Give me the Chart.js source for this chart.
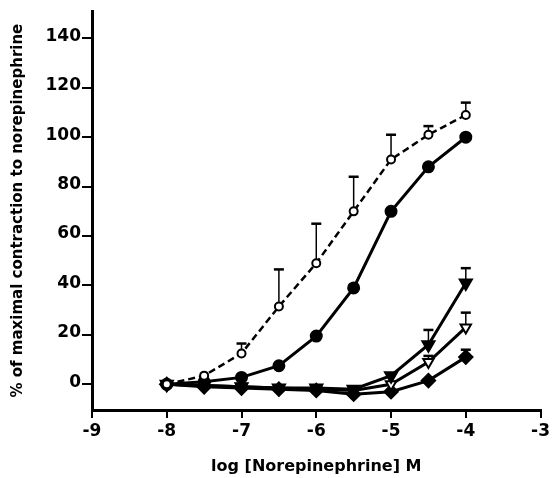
<!DOCTYPE html>
<html>
<head>
<meta charset="utf-8">
<script src="https://cdn.jsdelivr.net/npm/chart.js@4"></script>
<style>
  html, body { margin: 0; padding: 0; background: #fff; }
  #wrap { width: 553px; height: 478px; }
</style>
</head>
<body>
<div id="wrap"><canvas id="doseChart" width="553" height="478"></canvas></div>
<script>
var ctx = document.getElementById("doseChart");

/* data */
var logConc = [-8, -7.5, -7, -6.5, -6, -5.5, -5, -4.5, -4];

var openCircle = [0, 3.5, 12.5, 31.5, 49, 70, 91, 101, 109];
var openCircleErr = [0, 0, 4, 15, 16, 14, 10, 3.5, 5];

var filledCircle = [0, 1, 2.8, 7.5, 19.5, 39, 70, 88, 100];
var filledCircleErr = [0, 0, 0, 0, 0, 1, 1, 1, 0];

var filledTriangle = [0, -0.5, -1, -1.5, -1.5, -2, 3.5, 16, 41];
var filledTriangleErr = [0, 0, 0, 0, 0, 0, 0, 6, 6];

var openTriangle = [0, -0.5, -1, -1.5, -2, -2.5, 0, 9, 23];
var openTriangleErr = [0, 0, 0, 0, 0, 0, 0, 2.5, 6];

var filledDiamond = [0, -1, -1.5, -2, -2.5, -4, -3, 1.5, 11];
var filledDiamondErr = [0, 0, 0, 0, 0, 0, 0, 0, 3];

var yTicks = [0, 20, 40, 60, 80, 100, 120, 140];

function pts(vals) {
  return logConc.map(function (x, i) { return { x: x, y: vals[i] }; });
}

// upward SEM bars drawn under the markers
var errorBars = {
  id: 'errorBars',
  beforeDatasetsDraw: function (chart) {
    var c = chart.ctx;
    var xs = chart.scales.x, ys = chart.scales.y;
    c.save();
    c.strokeStyle = '#000';
    chart.data.datasets.forEach(function (ds) {
      if (!ds.err) return;
      ds.data.forEach(function (p, i) {
        var e = ds.err[i];
        if (!e) return;
        var px = xs.getPixelForValue(p.x);
        var y0 = ys.getPixelForValue(p.y);
        var y1 = ys.getPixelForValue(p.y + e);
        c.lineWidth = 1.5;
        c.beginPath();
        c.moveTo(px, y0);
        c.lineTo(px, y1);
        c.stroke();
        c.lineWidth = 2.5;
        c.beginPath();
        c.moveTo(px - 5, y1);
        c.lineTo(px + 5, y1);
        c.stroke();
      });
    });
    c.restore();
  }
};

var fam = 'DejaVu Sans, Liberation Sans, sans-serif';

var doseChart = new Chart(ctx, {
  type: 'scatter',
  data: {
    datasets: [{
      label: 'open circle',
      data: pts(openCircle),
      err: openCircleErr,
      showLine: true,
      borderColor: '#000',
      borderWidth: 2.5,
      borderDash: [7, 4],
      pointStyle: 'circle',
      pointRadius: 4,
      pointBorderWidth: 2,
      pointBackgroundColor: '#fff',
      pointBorderColor: '#000'
    }, {
      label: 'filled circle',
      data: pts(filledCircle),
      err: filledCircleErr,
      showLine: true,
      borderColor: '#000',
      borderWidth: 3,
      pointStyle: 'circle',
      pointRadius: 5,
      pointBackgroundColor: '#000',
      pointBorderColor: '#000'
    }, {
      label: 'filled triangle',
      data: pts(filledTriangle),
      err: filledTriangleErr,
      showLine: true,
      borderColor: '#000',
      borderWidth: 3,
      pointStyle: 'triangle',
      rotation: 180,
      pointRadius: 6,
      pointBackgroundColor: '#000',
      pointBorderColor: '#000'
    }, {
      label: 'open triangle',
      data: pts(openTriangle),
      err: openTriangleErr,
      showLine: true,
      borderColor: '#000',
      borderWidth: 3,
      pointStyle: 'triangle',
      rotation: 180,
      pointRadius: 6,
      pointBorderWidth: 2,
      pointBackgroundColor: '#fff',
      pointBorderColor: '#000'
    }, {
      label: 'filled diamond',
      data: pts(filledDiamond),
      err: filledDiamondErr,
      showLine: true,
      borderColor: '#000',
      borderWidth: 3,
      pointStyle: 'rectRot',
      pointRadius: 6,
      pointBackgroundColor: '#000',
      pointBorderColor: '#000'
    }]
  },
  options: {
    responsive: false,
    animation: false,
    layout: { padding: { top: 5, right: 11, left: 0, bottom: 0 } },
    plugins: {
      legend: { display: false },
      tooltip: { enabled: false }
    },
    scales: {
      x: {
        type: 'linear',
        min: -9,
        max: -3,
        ticks: { stepSize: 1, color: '#000', font: { family: fam, weight: 'bold', size: 17 }, padding: 3 },
        grid: { drawOnChartArea: false, drawTicks: true, tickLength: 8, color: '#000', lineWidth: 2 },
        border: { display: true, color: '#000', width: 3 },
        title: { display: true, text: 'log [Norepinephrine] M', color: '#000', font: { family: fam, weight: 'bold', size: 16 }, padding: { top: 4, bottom: 2 } },
        afterFit: function (s) { s.height = 68; }
      },
      y: {
        min: -10.4,
        max: 151,
        afterBuildTicks: function (s) { s.ticks = yTicks.map(function (v) { return { value: v }; }); },
        ticks: { color: '#000', font: { family: fam, weight: 'bold', size: 17 }, padding: 1, labelOffset: -2 },
        grid: { drawOnChartArea: false, drawTicks: true, tickLength: 10, color: '#000', lineWidth: 2 },
        border: { display: true, color: '#000', width: 3 },
        title: { display: true, text: '% of maximal contraction to norepinephrine', color: '#000', font: { family: fam, weight: 'bold', size: 15 }, padding: { top: 9, bottom: 4 } },
        afterFit: function (s) { s.width = 92; }
      }
    }
  },
  plugins: [errorBars]
});
</script>
</body>
</html>
